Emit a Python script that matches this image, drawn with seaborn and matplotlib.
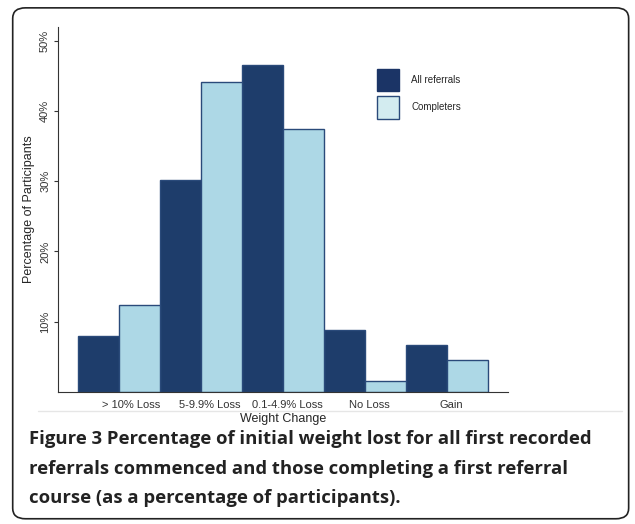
import matplotlib
matplotlib.use("Agg")
import matplotlib.pyplot as plt
import seaborn as sns
import pandas as pd
from matplotlib.patches import FancyBboxPatch, Patch
from matplotlib.ticker import FuncFormatter

categories = ["> 10% Loss", "5-9.9% Loss", "0.1-4.9% Loss", "No Loss", "Gain"]
all_referrals = [7.9, 30.1, 46.5, 8.8, 6.7]
completers = [12.4, 44.1, 37.4, 1.5, 4.6]
series = ["All referrals", "Completers"]

df = pd.DataFrame({
    "cat": categories * 2,
    "val": all_referrals + completers,
    "grp": [series[0]] * 5 + [series[1]] * 5,
})

sns.set_style("white")
plt.rcParams['font.family'] = ['Liberation Sans', 'DejaVu Sans']
fig = plt.figure(figsize=(6.35, 5.24), dpi=100)
fig.patches.append(FancyBboxPatch((0.02, 0.01), 0.97, 0.975, boxstyle="round,pad=0,rounding_size=0.02",
                                  transform=fig.transFigure, fill=False, ec="#222222", lw=1.2))
ax = fig.add_axes([0.092, 0.252, 0.708, 0.696])
sns.barplot(data=df, x="cat", y="val", hue="grp", order=categories, hue_order=series,
            palette=["#1e3d6b", "#add8e6"], width=1.0, edgecolor="#2a4a7a", linewidth=1,
            saturation=1, ax=ax, legend=False)
ax.set_xlim(-0.74, 4.74)
ax.set_ylim(0, 51.9)
ax.set_yticks([10, 20, 30, 40, 50])
ax.yaxis.set_major_formatter(FuncFormatter(lambda v, p: f"{int(v)}%"))
for t in ax.get_yticklabels():
    t.set_rotation(90); t.set_va("center"); t.set_fontsize(8); t.set_color("#333333")
ax.tick_params(axis="y", length=3, color="#333333", left=True, pad=3)
ax.tick_params(axis="x", length=0, labelsize=8, colors="#333333", pad=6)
ax.set_xticks([0.15, 1.1, 2.05, 3.05, 4.05])
ax.set_xticklabels(categories)
ax.set_xlabel("Weight Change", fontsize=9, labelpad=2)
ax.set_ylabel("Percentage of Participants", fontsize=9)
for s in ["top", "right"]:
    ax.spines[s].set_visible(False)
for s in ["left", "bottom"]:
    ax.spines[s].set_color("#333333"); ax.spines[s].set_linewidth(0.8)

handles = [Patch(fc="#1b3466", ec="#1b3466"), Patch(fc="#d3ecf0", ec="#2a4a7a")]
ax.legend(handles, series, loc="upper left", bbox_to_anchor=(0.69, 0.91), frameon=False,
          fontsize=7, handlelength=2.2, handleheight=3.2, handletextpad=1.3, labelspacing=0.5)

fig.add_artist(plt.Line2D([0.06, 0.98], [0.215, 0.215], color="#e6e6e6", lw=1))
for y, s in [(0.153, "Figure 3 Percentage of initial weight lost for all first recorded"),
             (0.096, "referrals commenced and those completing a first referral"),
             (0.040, "course (as a percentage of participants).")]:
    fig.text(0.045, y, s, fontsize=13.3, fontweight="bold", color="#222222", family="Open Sans")
fig.savefig("out.png", dpi=100)
